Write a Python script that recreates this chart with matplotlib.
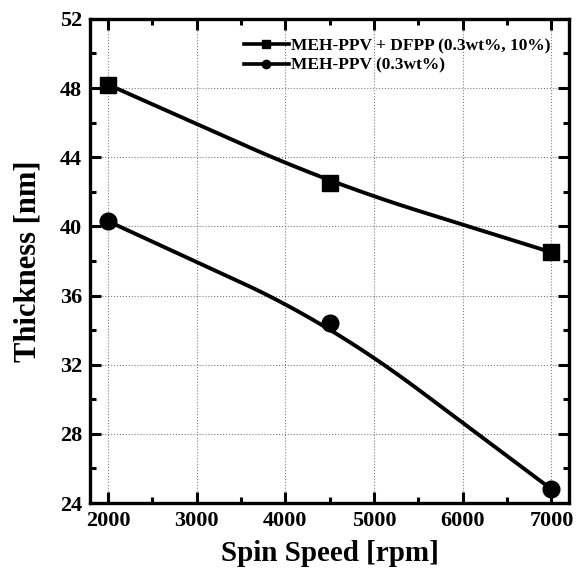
import numpy as np
import matplotlib.pyplot as plt

plt.rcParams['font.family'] = ['Liberation Serif', 'DejaVu Serif']
plt.rcParams['font.weight'] = 'bold'

# spin speed (rpm) and film thickness (nm)
speed = np.array([2000, 4500, 7000])
thick_dfpp = np.array([48.2, 42.5, 38.5])
thick_meh = np.array([40.3, 34.4, 24.8])

label_dfpp = "MEH-PPV + DFPP (0.3wt%, 10%)"
label_meh = "MEH-PPV (0.3wt%)"


# connecting line: straight segments with the corner rounded off
# (running mean of the polyline over +-w rpm)
def smooth_line(x, y, w=1000, n=400):
    x = np.asarray(x, float)
    y = np.asarray(y, float)
    xs = np.linspace(x[0], x[-1], n)
    X = xs[:, None] + np.linspace(-w, w, 61)[None, :]
    Y = np.interp(X, x, y)
    lo = X < x[0]
    hi = X > x[-1]
    Y[lo] = y[0] + (X[lo] - x[0]) * (y[1] - y[0]) / (x[1] - x[0])
    Y[hi] = y[-1] + (X[hi] - x[-1]) * (y[-1] - y[-2]) / (x[-1] - x[-2])
    return xs, Y.mean(axis=1)


fig = plt.figure(figsize=(5.82, 5.71), dpi=100)
ax = fig.add_axes([0.155, 0.119, 0.823, 0.848])

for y, mk, lab in [(thick_dfpp, 's', label_dfpp), (thick_meh, 'o', label_meh)]:
    sx, sy = smooth_line(speed, y)
    ax.plot(sx, sy, color='black', lw=2.8)
    ax.plot(speed, y, mk, color='black', ms=12)
    ax.plot([], [], color='black', lw=2.6, marker=mk, ms=6, label=lab)

ax.set_xlim(1800, 7200)
ax.set_ylim(24, 52)
ax.set_xticks(np.arange(2000, 7001, 1000))
ax.set_yticks(np.arange(24, 53, 4))
ax.set_xticks(np.arange(2500, 7000, 1000), minor=True)
ax.set_yticks(np.arange(26, 52, 4), minor=True)
ax.grid(True, which='major', ls=':', color='black', lw=0.8, alpha=0.5)

ax.tick_params(which='both', direction='in', top=True, right=True, width=2.2, labelsize=16)
ax.tick_params(which='major', length=8, pad=6)
ax.tick_params(which='minor', length=4)
for s in ax.spines.values():
    s.set_linewidth(2.4)

ax.set_xlabel("Spin Speed [rpm]", fontsize=21, fontweight='bold', labelpad=6)
ax.set_ylabel("Thickness [nm]", fontsize=22, fontweight='bold', labelpad=12)

ax.legend(loc='upper right', frameon=False, handlelength=2.6,
          handletextpad=0.1, labelspacing=0.2, borderaxespad=0.7,
          prop={'weight': 'bold', 'size': 12.5})

fig.savefig("out.png", dpi=100)
